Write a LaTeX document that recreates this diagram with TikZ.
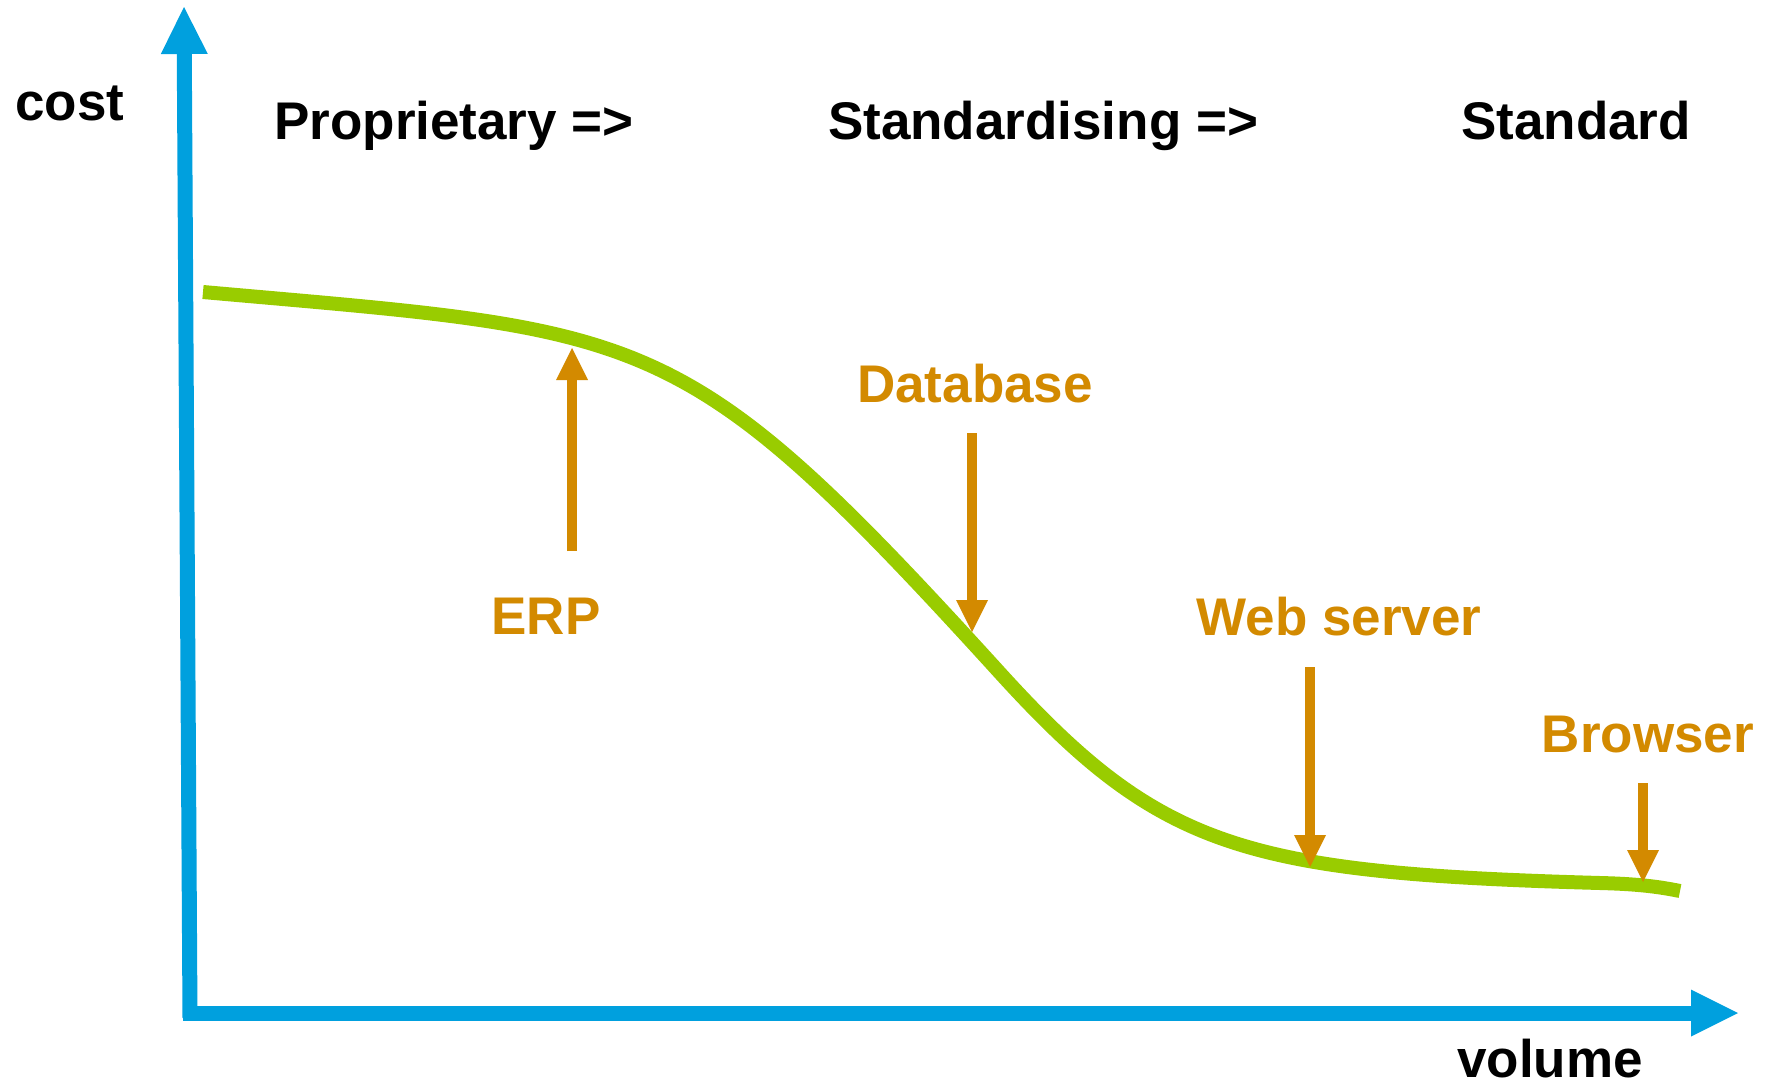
\documentclass[tikz,border=0pt]{standalone}
\usepackage{fontspec}
\setmainfont{Liberation Sans}
\usetikzlibrary{arrows.meta}

\definecolor{axisblue}{RGB}{0,160,222}
\definecolor{curvegreen}{RGB}{153,204,0}
\definecolor{tagorange}{RGB}{211,138,0}

\begin{document}
\begin{tikzpicture}[x=1pt,y=-1pt,
  axis/.style={axisblue,line width=15pt,-{Triangle[length=47pt,width=47pt,line width=0pt]}},
  pointer/.style={tagorange,line width=10pt,-{Triangle[length=32pt,width=32pt,line width=0pt]}},
  heading/.style={anchor=base,inner sep=0pt,font=\fontsize{53}{60}\selectfont\bfseries},
  tag/.style={heading,text=tagorange}]
\useasboundingbox (0,0) rectangle (1770,1087);
% axes
\coordinate (origin) at (190,1018);
\coordinate (corner) at (183,1013);
\coordinate (costend) at (184,7);
\coordinate (volend) at (1738,1013);
\draw[axis] (origin) -- (costend);
\draw[axis] (corner) -- (volend);
% cost curve
\draw[curvegreen,line width=14pt] (203,292) .. controls (653,332) and (680,321) .. (1000,673)
  .. controls (1160,849) and (1244,873) .. (1600,883) .. controls (1640,884) and (1660,887) .. (1680,891);
% pointers onto the curve
\coordinate (erptail) at (572,551);
\coordinate (erptip) at (572,348);
\coordinate (dbtail) at (972,433);
\coordinate (dbtip) at (972,632);
\coordinate (webtail) at (1310,667);
\coordinate (webtip) at (1310,867);
\coordinate (browsertail) at (1643,783);
\coordinate (browsertip) at (1643,882);
\draw[pointer] (erptail) -- (erptip);
\draw[pointer] (dbtail) -- (dbtip);
\draw[pointer] (webtail) -- (webtip);
\draw[pointer] (browsertail) -- (browsertip);
% labels
\node[heading] (cost) at (70,120) {cost};
\node[heading] (volume) at (1550,1077) {volume};
\node[heading] (proprietary) at (454,139) {Proprietary =>};
\node[heading] (standardising) at (1043,139) {Standardising =>};
\node[heading] (standard) at (1576,139) {Standard};
\node[tag] (erp) at (546,634) {ERP};
\node[tag] (database) at (975,402) {Database};
\node[tag] (webserver) at (1339,635) {Web server};
\node[tag] (browser) at (1648,752) {Browser};
\end{tikzpicture}
\end{document}
